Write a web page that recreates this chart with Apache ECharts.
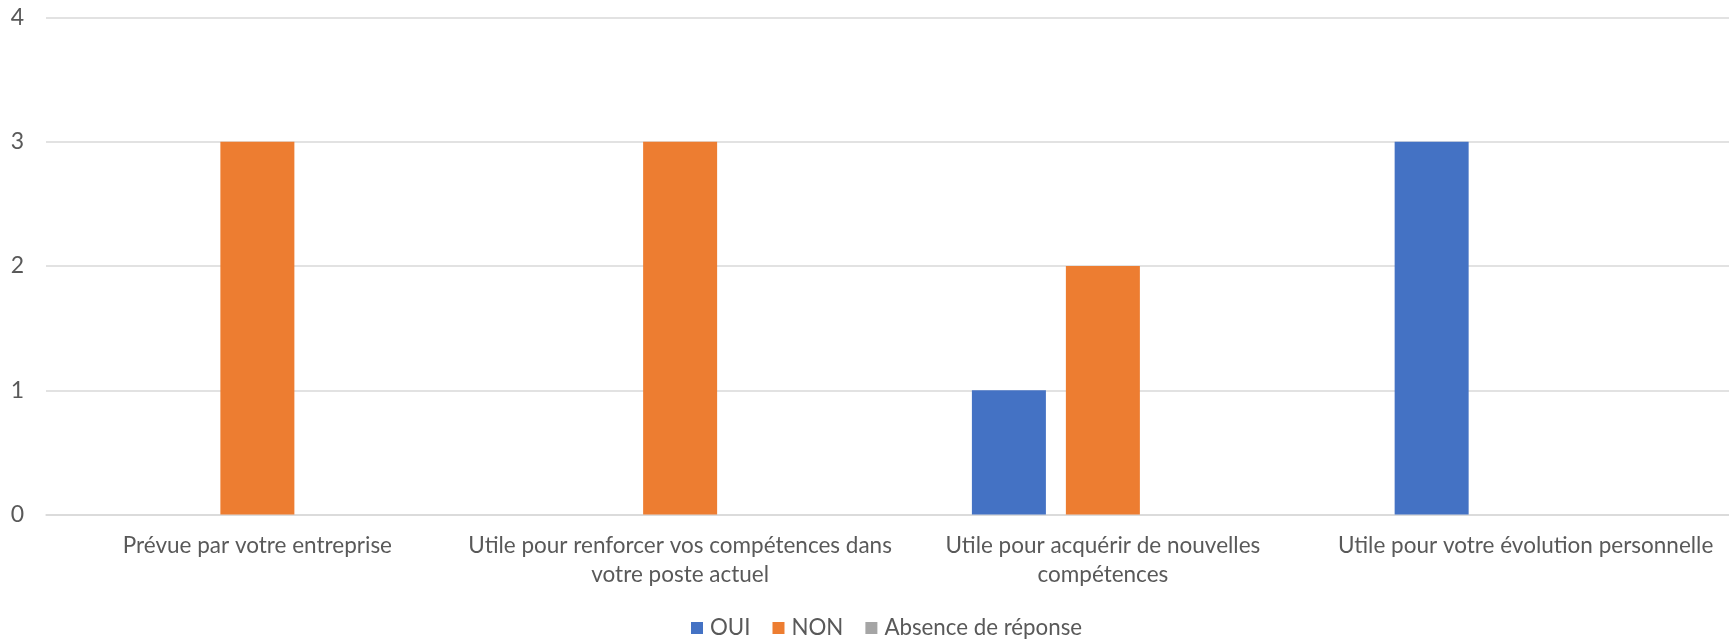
<!DOCTYPE html>
<html>
<head>
<meta charset="utf-8">
<script src="https://cdn.jsdelivr.net/npm/echarts@6/dist/echarts.min.js"></script>
<style>
  html, body { margin: 0; padding: 0; background: #fff; overflow: hidden; }
  /* the plot area runs a little past the right edge of the picture */
  #chart { width: 1737px; height: 642px; }
</style>
</head>
<body>
<div id="chart"></div>
<script>
const categories = [
  'Prévue par votre entreprise',
  'Utile pour renforcer vos compétences dans\nvotre poste actuel',
  'Utile pour acquérir de nouvelles\ncompétences',
  'Utile pour votre évolution personnelle'
];
const seriesNames = ['OUI', 'NON', 'Absence de réponse'];
const oui = [0, 0, 1, 3];
const non = [3, 3, 2, 0];
const absence = [0, 0, 0, 0];
const colors = ['#4472C4', '#ED7D31', '#A5A5A5'];
const yTicks = { min: 0, max: 4, interval: 1 };

const font = 'Lato';
const textColor = '#595959';

const chart = echarts.init(document.getElementById('chart'));

const option = {
  animation: false,
  color: colors,
  textStyle: { fontFamily: font },
  grid: { left: 46, right: 0, top: 17.5, bottom: 127.5, containLabel: false },
  legend: {
    bottom: 3,
    left: 691,
    padding: 0,
    icon: 'rect',
    itemWidth: 12,
    itemHeight: 12,
    itemGap: 22,
    textStyle: { fontFamily: font, fontSize: 22.3, color: textColor, padding: [0, 0, 0, 2] },
    data: seriesNames
  },
  xAxis: {
    type: 'category',
    data: categories,
    axisLine: { lineStyle: { color: '#d9d9d9', width: 1.5 } },
    axisTick: { show: false },
    axisLabel: {
      margin: 16,
      interval: 0,
      fontFamily: font,
      fontSize: 22.5,
      lineHeight: 29.5,
      color: textColor,
      align: 'center'
    }
  },
  yAxis: {
    type: 'value',
    min: yTicks.min,
    max: yTicks.max,
    interval: yTicks.interval,
    axisLine: { show: false },
    axisTick: { show: false },
    splitLine: { lineStyle: { color: '#d9d9d9', width: 1.5 } },
    axisLabel: { margin: 22, fontFamily: font, fontSize: 23, color: textColor }
  },
  series: [
    { name: seriesNames[0], type: 'bar', data: oui, barWidth: 74, barGap: '27%' },
    { name: seriesNames[1], type: 'bar', data: non, barWidth: 74, barGap: '27%' },
    { name: seriesNames[2], type: 'bar', data: absence, barWidth: 74, barGap: '27%' }
  ]
};

chart.setOption(option);
</script>
</body>
</html>
